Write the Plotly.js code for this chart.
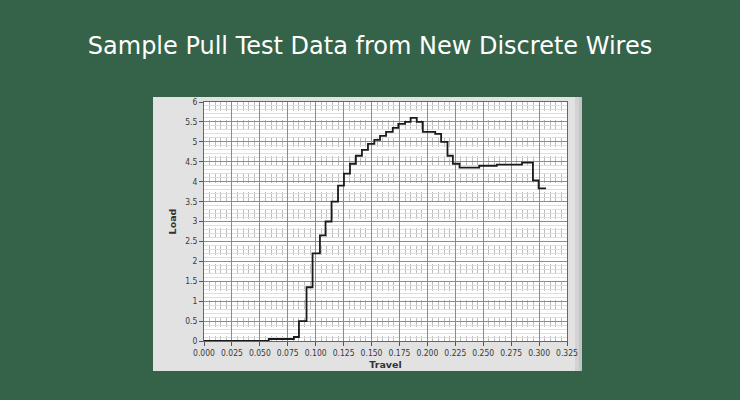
<!DOCTYPE html>
<html>
<head>
<meta charset="utf-8">
<script src="https://cdn.plot.ly/plotly-3.0.1.min.js"></script>
<style>html,body{margin:0;padding:0;background:#35634a;}#chart{width:740px;height:400px;}</style>
</head>
<body>
<div id="chart"></div>
<script>
// Step start positions (Travel) and load held from each one
var travel = [0, 0.058, 0.0805, 0.085, 0.0918, 0.0972, 0.1038, 0.1088, 0.1142, 0.120, 0.1253, 0.1307, 0.136, 0.1414, 0.1468, 0.1525, 0.1576, 0.163, 0.169, 0.174, 0.18, 0.185, 0.1905, 0.1959, 0.207, 0.2123, 0.218, 0.2228, 0.2288, 0.2464, 0.2622, 0.2847, 0.2945, 0.2996, 0.3062];
var load = [0, 0.05, 0.1, 0.5, 1.35, 2.2, 2.65, 3.0, 3.5, 3.9, 4.2, 4.45, 4.65, 4.8, 4.95, 5.05, 5.15, 5.25, 5.35, 5.45, 5.5, 5.6, 5.5, 5.25, 5.2, 5.0, 4.65, 4.45, 4.35, 4.4, 4.43, 4.48, 4.03, 3.83, 3.83];
var xTicks = [0, 0.025, 0.05, 0.075, 0.1, 0.125, 0.15, 0.175, 0.2, 0.225, 0.25, 0.275, 0.3, 0.325];
var yTicks = [0, 0.5, 1, 1.5, 2, 2.5, 3, 3.5, 4, 4.5, 5, 5.5, 6];
var chartTitle = 'Sample Pull Test Data from New Discrete Wires';

var tickFont = {family: 'DejaVu Sans Condensed, DejaVu Sans, sans-serif', size: 8.5, color: '#3a3a3a'};
var trace = {
  x: travel, y: load, type: 'scatter', mode: 'lines',
  line: {shape: 'hv', color: '#1a1a1a', width: 1.8},
  hoverinfo: 'skip'
};
var layout = {
  width: 740, height: 400,
  paper_bgcolor: '#35634a',
  plot_bgcolor: 'rgba(0,0,0,0)',
  margin: {l: 204, r: 173, t: 102, b: 59},
  showlegend: false,
  title: {text: chartTitle, x: 0.5, xref: 'container', xanchor: 'center', y: 0.885, yref: 'container', yanchor: 'middle',
          font: {family: 'DejaVu Sans, sans-serif', size: 24, color: '#ffffff'}},
  xaxis: {
    range: [0, 0.325], tickvals: xTicks, tickformat: '.3f', tickfont: tickFont,
    ticks: 'outside', ticklen: 4, tickcolor: '#555', tickwidth: 1,
    showgrid: true, gridcolor: '#8c8c8c', gridwidth: 1,
    minor: {dtick: 0.005, showgrid: true, gridcolor: '#bcbcbc', griddash: 'dash', gridwidth: 1},
    zeroline: false, showline: true, linecolor: '#666', linewidth: 1, mirror: true,
    title: {text: '<b>Travel</b>', standoff: 4, font: {family: 'DejaVu Sans, sans-serif', size: 9.5, color: '#333'}},
    fixedrange: true
  },
  yaxis: {
    range: [0, 6], tickvals: yTicks, tickfont: tickFont,
    ticks: 'outside', ticklen: 4, tickcolor: '#555', tickwidth: 1,
    showgrid: true, gridcolor: '#8c8c8c', gridwidth: 1,
    minor: {dtick: 0.1, showgrid: true, gridcolor: '#dedede', griddash: 'solid', gridwidth: 1},
    zeroline: false, showline: true, linecolor: '#666', linewidth: 1, mirror: true,
    title: {text: '<b>Load</b>', standoff: 6, font: {family: 'DejaVu Sans, sans-serif', size: 9.5, color: '#333'}},
    fixedrange: true
  },
  shapes: [
    {type: 'rect', xref: 'paper', yref: 'paper', x0: -0.1405, x1: 1.0413, y0: -0.1255, y1: 1.021,
     fillcolor: '#e2e2e2', line: {width: 0}, layer: 'below'},
    {type: 'rect', xref: 'paper', yref: 'paper', x0: 1.022, x1: 1.0413, y0: -0.1255, y1: 1.021,
     fillcolor: '#d2d2d2', line: {width: 0}, layer: 'below'},
    {type: 'rect', xref: 'paper', yref: 'paper', x0: 1.033, x1: 1.0413, y0: -0.1255, y1: 1.021,
     fillcolor: '#c4c4c4', line: {width: 0}, layer: 'below'},
    {type: 'rect', xref: 'paper', yref: 'paper', x0: 0, x1: 1, y0: 0, y1: 1,
     fillcolor: '#ffffff', line: {width: 0}, layer: 'below'}
  ]
};
Plotly.newPlot('chart', [trace], layout, {displayModeBar: false, staticPlot: true});
</script>
</body>
</html>
